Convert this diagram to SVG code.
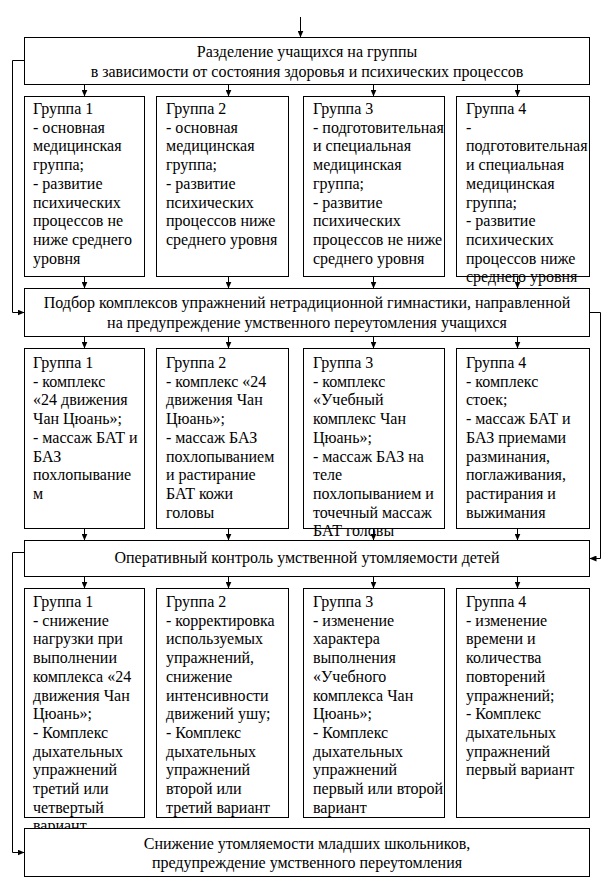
<svg xmlns="http://www.w3.org/2000/svg" width="613" height="889" viewBox="0 0 613 889">
<style>
.box{fill:#fff;stroke:#000;stroke-width:1}
.t{font-family:"Liberation Serif","Times New Roman",serif;font-size:16px;fill:#000}
.m{text-anchor:middle}
.ln{fill:none;stroke:#000;stroke-width:1}
</style>
<defs>
<marker id="ah" viewBox="0 0 7 6" refX="7" refY="3" markerWidth="7" markerHeight="6" orient="auto" markerUnits="userSpaceOnUse"><path d="M0,0 L7,3 L0,6 z" fill="#000"/></marker>
</defs>
<rect width="613" height="889" fill="#fff"/>

<g id="nodeA">
<rect class="box" x="24.5" y="37.5" width="565" height="47"/>
<text class="t m" x="307" y="57">Разделение учащихся на группы</text>
<text class="t m" x="307" y="77">в зависимости от состояния здоровья и психических процессов</text>
</g>

<g id="r1g1">
<rect class="box" x="24.5" y="96.5" width="120" height="180"/>
<text class="t" x="33" y="114"><tspan x="33">Группа 1</tspan><tspan x="33" dy="18.7">- основная</tspan><tspan x="33" dy="18.7">медицинская</tspan><tspan x="33" dy="18.7">группа;</tspan><tspan x="33" dy="18.7">- развитие</tspan><tspan x="33" dy="18.7">психических</tspan><tspan x="33" dy="18.7">процессов не</tspan><tspan x="33" dy="18.7">ниже среднего</tspan><tspan x="33" dy="18.7">уровня</tspan></text>
</g>
<g id="r1g2">
<rect class="box" x="156.5" y="96.5" width="132" height="180"/>
<text class="t" x="166" y="114"><tspan x="166">Группа 2</tspan><tspan x="166" dy="18.7">- основная</tspan><tspan x="166" dy="18.7">медицинская</tspan><tspan x="166" dy="18.7">группа;</tspan><tspan x="166" dy="18.7">- развитие</tspan><tspan x="166" dy="18.7">психических</tspan><tspan x="166" dy="18.7">процессов ниже</tspan><tspan x="166" dy="18.7">среднего уровня</tspan></text>
</g>
<g id="r1g3">
<rect class="box" x="303.5" y="96.5" width="141" height="180"/>
<text class="t" x="313" y="114"><tspan x="313">Группа 3</tspan><tspan x="313" dy="18.7">- подготовительная</tspan><tspan x="313" dy="18.7">и специальная</tspan><tspan x="313" dy="18.7">медицинская</tspan><tspan x="313" dy="18.7">группа;</tspan><tspan x="313" dy="18.7">- развитие</tspan><tspan x="313" dy="18.7">психических</tspan><tspan x="313" dy="18.7">процессов не ниже</tspan><tspan x="313" dy="18.7">среднего уровня</tspan></text>
</g>
<g id="r1g4">
<rect class="box" x="456.5" y="96.5" width="133" height="180"/>
<text class="t" x="466" y="114"><tspan x="466">Группа 4</tspan><tspan x="466" dy="18.7">-</tspan><tspan x="466" dy="18.7">подготовительная</tspan><tspan x="466" dy="18.7">и специальная</tspan><tspan x="466" dy="18.7">медицинская</tspan><tspan x="466" dy="18.7">группа;</tspan><tspan x="466" dy="18.7">- развитие</tspan><tspan x="466" dy="18.7">психических</tspan><tspan x="466" dy="18.7">процессов ниже</tspan><tspan x="466" dy="18.7">среднего уровня</tspan></text>
</g>

<g id="nodeB">
<rect class="box" x="24.5" y="288.5" width="565" height="48"/>
<text class="t m" x="307" y="308">Подбор комплексов упражнений нетрадиционной гимнастики, направленной</text>
<text class="t m" x="307" y="328">на предупреждение умственного переутомления учащихся</text>
</g>

<g id="r2g1">
<rect class="box" x="24.5" y="348.5" width="120" height="180"/>
<text class="t" x="33" y="368"><tspan x="33">Группа 1</tspan><tspan x="33" dy="18.7">- комплекс</tspan><tspan x="33" dy="18.7">«24 движения</tspan><tspan x="33" dy="18.7">Чан Цюань»;</tspan><tspan x="33" dy="18.7">- массаж БАТ и</tspan><tspan x="33" dy="18.7">БАЗ</tspan><tspan x="33" dy="18.7">похлопывание</tspan><tspan x="33" dy="18.7">м</tspan></text>
</g>
<g id="r2g2">
<rect class="box" x="156.5" y="348.5" width="132" height="180"/>
<text class="t" x="166" y="368"><tspan x="166">Группа 2</tspan><tspan x="166" dy="18.7">- комплекс «24</tspan><tspan x="166" dy="18.7">движения Чан</tspan><tspan x="166" dy="18.7">Цюань»;</tspan><tspan x="166" dy="18.7">- массаж БАЗ</tspan><tspan x="166" dy="18.7">похлопыванием</tspan><tspan x="166" dy="18.7">и растирание</tspan><tspan x="166" dy="18.7">БАТ кожи</tspan><tspan x="166" dy="18.7">головы</tspan></text>
</g>
<g id="r2g3">
<rect class="box" x="303.5" y="348.5" width="141" height="180"/>
<text class="t" x="313" y="368"><tspan x="313">Группа 3</tspan><tspan x="313" dy="18.7">- комплекс</tspan><tspan x="313" dy="18.7">«Учебный</tspan><tspan x="313" dy="18.7">комплекс Чан</tspan><tspan x="313" dy="18.7">Цюань»;</tspan><tspan x="313" dy="18.7">- массаж БАЗ на</tspan><tspan x="313" dy="18.7">теле</tspan><tspan x="313" dy="18.7">похлопыванием и</tspan><tspan x="313" dy="18.7">точечный массаж</tspan><tspan x="313" dy="18.7">БАТ головы</tspan></text>
</g>
<g id="r2g4">
<rect class="box" x="456.5" y="348.5" width="133" height="180"/>
<text class="t" x="466" y="368"><tspan x="466">Группа 4</tspan><tspan x="466" dy="18.7">- комплекс</tspan><tspan x="466" dy="18.7">стоек;</tspan><tspan x="466" dy="18.7">- массаж БАТ и</tspan><tspan x="466" dy="18.7">БАЗ приемами</tspan><tspan x="466" dy="18.7">разминания,</tspan><tspan x="466" dy="18.7">поглаживания,</tspan><tspan x="466" dy="18.7">растирания и</tspan><tspan x="466" dy="18.7">выжимания</tspan></text>
</g>

<g id="nodeC">
<rect class="box" x="24.5" y="540.5" width="565" height="36"/>
<text class="t m" x="307" y="563">Оперативный контроль умственной утомляемости детей</text>
</g>

<g id="r3g1">
<rect class="box" x="24.5" y="588.5" width="120" height="229"/>
<text class="t" x="33" y="607"><tspan x="33">Группа 1</tspan><tspan x="33" dy="18.7">- снижение</tspan><tspan x="33" dy="18.7">нагрузки при</tspan><tspan x="33" dy="18.7">выполнении</tspan><tspan x="33" dy="18.7">комплекса «24</tspan><tspan x="33" dy="18.7">движения Чан</tspan><tspan x="33" dy="18.7">Цюань»;</tspan><tspan x="33" dy="18.7">- Комплекс</tspan><tspan x="33" dy="18.7">дыхательных</tspan><tspan x="33" dy="18.7">упражнений</tspan><tspan x="33" dy="18.7">третий или</tspan><tspan x="33" dy="18.7">четвертый</tspan><tspan x="33" dy="18.7">вариант</tspan></text>
</g>
<g id="r3g2">
<rect class="box" x="156.5" y="588.5" width="132" height="229"/>
<text class="t" x="166" y="607"><tspan x="166">Группа 2</tspan><tspan x="166" dy="18.7">- корректировка</tspan><tspan x="166" dy="18.7">используемых</tspan><tspan x="166" dy="18.7">упражнений,</tspan><tspan x="166" dy="18.7">снижение</tspan><tspan x="166" dy="18.7">интенсивности</tspan><tspan x="166" dy="18.7">движений ушу;</tspan><tspan x="166" dy="18.7">- Комплекс</tspan><tspan x="166" dy="18.7">дыхательных</tspan><tspan x="166" dy="18.7">упражнений</tspan><tspan x="166" dy="18.7">второй или</tspan><tspan x="166" dy="18.7">третий вариант</tspan></text>
</g>
<g id="r3g3">
<rect class="box" x="303.5" y="588.5" width="141" height="229"/>
<text class="t" x="313" y="607"><tspan x="313">Группа 3</tspan><tspan x="313" dy="18.7">- изменение</tspan><tspan x="313" dy="18.7">характера</tspan><tspan x="313" dy="18.7">выполнения</tspan><tspan x="313" dy="18.7">«Учебного</tspan><tspan x="313" dy="18.7">комплекса Чан</tspan><tspan x="313" dy="18.7">Цюань»;</tspan><tspan x="313" dy="18.7">- Комплекс</tspan><tspan x="313" dy="18.7">дыхательных</tspan><tspan x="313" dy="18.7">упражнений</tspan><tspan x="313" dy="18.7">первый или второй</tspan><tspan x="313" dy="18.7">вариант</tspan></text>
</g>
<g id="r3g4">
<rect class="box" x="456.5" y="588.5" width="133" height="229"/>
<text class="t" x="466" y="607"><tspan x="466">Группа 4</tspan><tspan x="466" dy="18.7">- изменение</tspan><tspan x="466" dy="18.7">времени и</tspan><tspan x="466" dy="18.7">количества</tspan><tspan x="466" dy="18.7">повторений</tspan><tspan x="466" dy="18.7">упражнений;</tspan><tspan x="466" dy="18.7">- Комплекс</tspan><tspan x="466" dy="18.7">дыхательных</tspan><tspan x="466" dy="18.7">упражнений</tspan><tspan x="466" dy="18.7">первый вариант</tspan></text>
</g>

<g id="nodeD">
<rect class="box" x="24.5" y="828.5" width="565" height="48"/>
<text class="t m" x="307" y="849">Снижение утомляемости младших школьников,</text>
<text class="t m" x="307" y="868">предупреждение умственного переутомления</text>
</g>

<g id="connectors" class="ln" marker-end="url(#ah)">
<line x1="300.5" y1="17" x2="300.5" y2="37.5"/>
<line x1="84.5" y1="84.5" x2="84.5" y2="96.5"/>
<line x1="228.5" y1="84.5" x2="228.5" y2="96.5"/>
<line x1="373.5" y1="84.5" x2="373.5" y2="96.5"/>
<line x1="517.5" y1="84.5" x2="517.5" y2="96.5"/>
<line x1="84.5" y1="276.5" x2="84.5" y2="288.5"/>
<line x1="228.5" y1="276.5" x2="228.5" y2="288.5"/>
<line x1="373.5" y1="276.5" x2="373.5" y2="288.5"/>
<line x1="517.5" y1="276.5" x2="517.5" y2="288.5"/>
<line x1="84.5" y1="336.5" x2="84.5" y2="348.5"/>
<line x1="228.5" y1="336.5" x2="228.5" y2="348.5"/>
<line x1="373.5" y1="336.5" x2="373.5" y2="348.5"/>
<line x1="517.5" y1="336.5" x2="517.5" y2="348.5"/>
<line x1="84.5" y1="528.5" x2="84.5" y2="540.5"/>
<line x1="228.5" y1="528.5" x2="228.5" y2="540.5"/>
<line x1="373.5" y1="528.5" x2="373.5" y2="540.5"/>
<line x1="517.5" y1="528.5" x2="517.5" y2="540.5"/>
<line x1="84.5" y1="576.5" x2="84.5" y2="588.5"/>
<line x1="228.5" y1="576.5" x2="228.5" y2="588.5"/>
<line x1="373.5" y1="576.5" x2="373.5" y2="588.5"/>
<line x1="517.5" y1="576.5" x2="517.5" y2="588.5"/>
<polyline points="24.5,60.5 12.5,60.5 12.5,312.5 24.5,312.5"/>
<polyline points="589.5,312.5 600.5,312.5 600.5,558.5 589.5,558.5"/>
<polyline points="24.5,552.5 12.5,552.5 12.5,852.5 24.5,852.5"/>
</g>
</svg>
